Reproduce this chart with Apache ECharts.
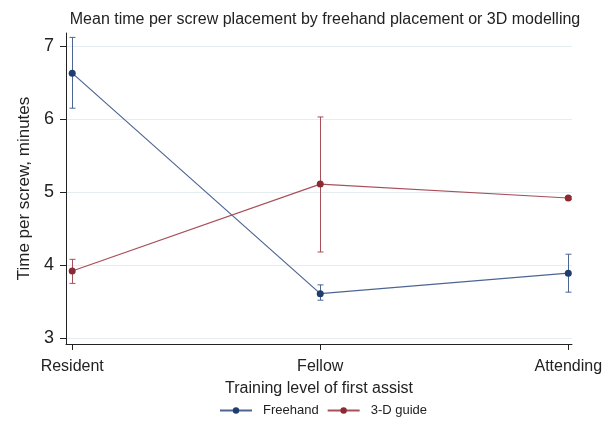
<!DOCTYPE html>
<html><head><meta charset="utf-8">
<script src="https://cdn.jsdelivr.net/npm/echarts@6/dist/echarts.min.js"></script>
<style>html,body{margin:0;padding:0;background:#fff}#c{width:613px;height:424px}</style>
</head><body><div id="c"></div>
<script>
var categories = ['Resident', 'Fellow', 'Attending'];
var freehandMean = [6.63, 3.61, 3.89];
var freehandLow  = [6.15, 3.52, 3.63];
var freehandHigh = [7.12, 3.73, 4.15];
var guideMean = [3.92, 5.11, 4.92];
var guideLow  = [3.75, 4.18, 4.90];
var guideHigh = [4.08, 6.03, 4.94];
var yTicks = [3, 4, 5, 6, 7];

var blueLine = '#4d6593', blueMark = '#1f3d6e';
var redLine = '#a8505a', redMark = '#8c2a34';
var font = 'Liberation Sans, Arial, sans-serif';

function errData(low, high) {
  return categories.map(function (c, i) { return [i, low[i], high[i]]; });
}
function errRender(color) {
  return function (params, api) {
    var x = api.value(0);
    var lo = api.coord([x, api.value(1)]);
    var hi = api.coord([x, api.value(2)]);
    var px = Math.round(lo[0]) + 0.5;
    var w = 3;
    var st = { stroke: color, lineWidth: 1 };
    return { type: 'group', children: [
      { type: 'line', shape: { x1: px, y1: lo[1], x2: px, y2: hi[1] }, style: st },
      { type: 'line', shape: { x1: px - w, y1: lo[1], x2: px + w, y2: lo[1] }, style: st },
      { type: 'line', shape: { x1: px - w, y1: hi[1], x2: px + w, y2: hi[1] }, style: st }
    ]};
  };
}

var chart = echarts.init(document.getElementById('c'));
chart.setOption({
  animation: false,
  backgroundColor: '#fff',
  textStyle: { fontFamily: font },
  title: {
    text: 'Mean time per screw placement by freehand placement or 3D modelling',
    left: 320, textAlign: 'center', top: 7,
    textStyle: { fontSize: 16, fontWeight: 'normal', color: '#222', fontFamily: font }
  },
  legend: {
    bottom: 2, left: 214,
    itemWidth: 32, itemHeight: 8, itemGap: 8,
    textStyle: { fontSize: 13, color: '#222', fontFamily: font, padding: [0, 0, 0, 6] },
    data: ['Freehand', '3-D guide']
  },
  grid: { left: 66, right: 41, top: 33, bottom: 80 },
  xAxis: {
    type: 'value', min: -0.025, max: 2.015, interval: 1,
    name: 'Training level of first assist', nameLocation: 'middle', nameGap: 37,
    nameTextStyle: { fontSize: 16, color: '#222', fontFamily: font },
    axisLine: { show: true, onZero: false, lineStyle: { color: '#222', width: 1 } },
    axisTick: { show: true, length: 6, lineStyle: { color: '#222' }, customValues: [0, 1, 2] },
    axisLabel: { fontSize: 16, color: '#222', margin: 15, fontFamily: font,
      customValues: [0, 1, 2],
      formatter: function (v) { return categories[Math.round(v)] || ''; } },
    splitLine: { show: false }
  },
  yAxis: {
    type: 'value', min: 2.92, max: 7.18,
    name: 'Time per screw, minutes', nameLocation: 'middle', nameGap: 29, nameRotate: 90,
    nameTextStyle: { fontSize: 17, color: '#222', fontFamily: font },
    axisLine: { show: true, onZero: false, lineStyle: { color: '#222', width: 1 } },
    axisTick: { show: true, length: 6, lineStyle: { color: '#222' }, customValues: yTicks },
    axisLabel: { fontSize: 18, color: '#222', margin: 12, fontFamily: font, customValues: yTicks },
    splitLine: { show: false }
  },
  series: [
    {
      name: 'Freehand', type: 'line',
      data: categories.map(function (c, i) { return [i, freehandMean[i]]; }),
      symbol: 'circle', symbolSize: 7,
      lineStyle: { color: blueLine, width: 1.2 },
      itemStyle: { color: blueMark },
      z: 5,
      markLine: {
        silent: true, symbol: 'none', label: { show: false },
        lineStyle: { color: '#e6edf1', type: 'solid', width: 1 },
        data: yTicks.map(function (t) { return { yAxis: t }; }),
        z: 0
      }
    },
    {
      name: '3-D guide', type: 'line',
      data: categories.map(function (c, i) { return [i, guideMean[i]]; }),
      symbol: 'circle', symbolSize: 7,
      lineStyle: { color: redLine, width: 1.2 },
      itemStyle: { color: redMark },
      z: 5
    },
    { type: 'custom', name: 'fe', data: errData(freehandLow, freehandHigh), clip: false,
      renderItem: errRender(blueLine), encode: { x: 0, y: [1, 2] }, z: 4 },
    { type: 'custom', name: 'ge', data: errData(guideLow, guideHigh), clip: false,
      renderItem: errRender(redLine), encode: { x: 0, y: [1, 2] }, z: 4 }
  ]
});
</script></body></html>
